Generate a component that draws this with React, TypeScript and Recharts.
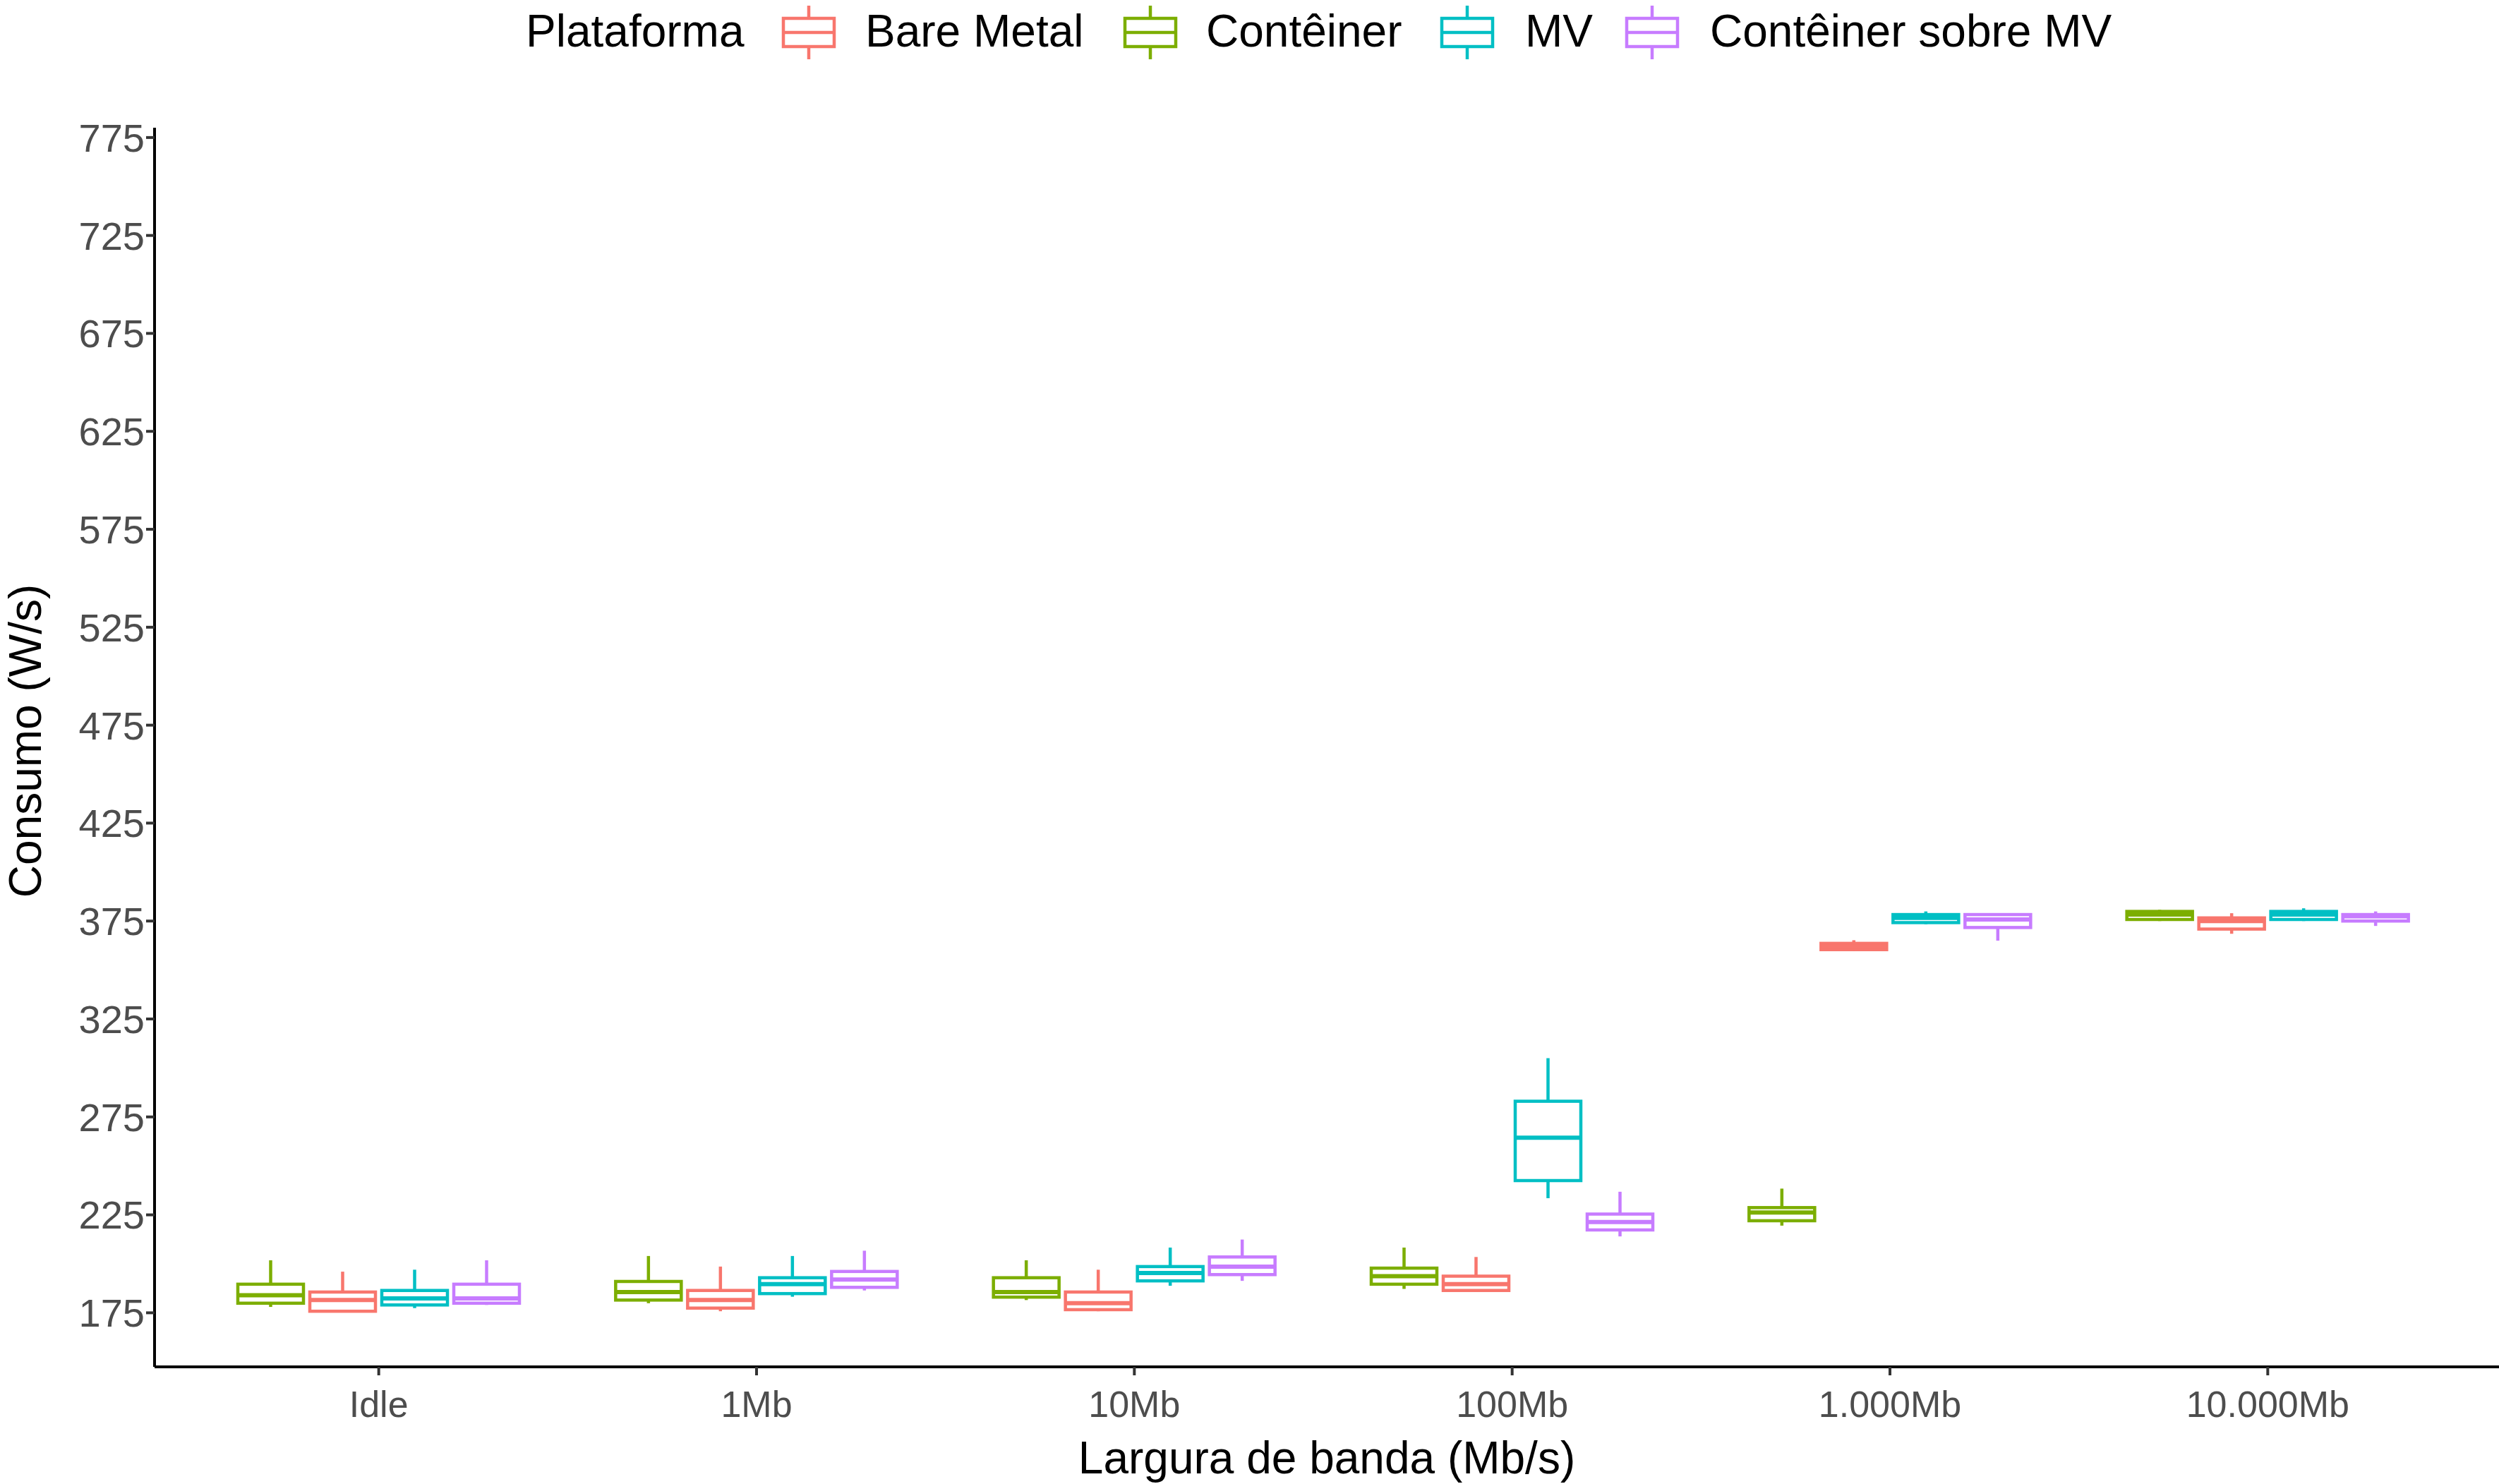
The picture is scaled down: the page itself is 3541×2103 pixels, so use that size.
import { ComposedChart, Bar, XAxis, YAxis } from 'recharts';

// [min, q1, median, q3, max] per category
const categories = ['Idle', '1Mb', '10Mb', '100Mb', '1.000Mb', '10.000Mb'];
const bareMetal = [
  [175.8, 175.8, 181.5, 185.6, 196],
  [175.8, 177.4, 181.5, 186.4, 198.6],
  [175.8, 176.6, 179.9, 185.6, 197],
  [185.6, 186.4, 189.6, 193.7, 203.5],
  [359.6, 360.4, 362, 363.6, 365.2],
  [368.5, 370.9, 375, 376.6, 379],
];
const conteiner = [
  [178, 179.9, 184, 189.6, 201.8],
  [179.9, 181.5, 185.6, 191, 204],
  [181.5, 183, 185.6, 192.9, 201.8],
  [187.2, 189.6, 193.7, 197.8, 208.3],
  [219.5, 222, 226.2, 228.7, 238.4],
  [375, 375.8, 378.3, 379.9, 380.7],
];
const mv = [
  [177.4, 179, 182.3, 186.4, 197],
  [183.2, 184.8, 189.6, 192.9, 204],
  [188.8, 191.3, 195.3, 198.6, 208.3],
  [233.5, 242.5, 264.4, 283, 305],
  [373.4, 374.2, 376.6, 378.3, 379.9],
  [375, 375.8, 378.3, 379.9, 381.5],
];
const conteinerMv = [
  [179, 179.9, 182.3, 189.6, 201.8],
  [186.4, 188, 192, 196.1, 206.7],
  [191.3, 194.5, 198.6, 203.5, 212.4],
  [214, 217.3, 221.3, 225.4, 236.8],
  [365, 371.7, 375.8, 378.3, 379],
  [372.5, 375, 377.4, 378.3, 379.9],
];
const yTicks = [175, 225, 275, 325, 375, 425, 475, 525, 575, 625, 675, 725, 775];

const series = [
  { key: 'ct', name: 'Contêiner', color: '#7CAE00', values: conteiner },
  { key: 'bm', name: 'Bare Metal', color: '#F8766D', values: bareMetal },
  { key: 'mv', name: 'MV', color: '#00BFC4', values: mv },
  { key: 'cm', name: 'Contêiner sobre MV', color: '#C77CFF', values: conteinerMv },
];
const legendOrder = [
  { name: 'Bare Metal', color: '#F8766D', left: 1106, text: 1226 },
  { name: 'Contêiner', color: '#7CAE00', left: 1590, text: 1709 },
  { name: 'MV', color: '#00BFC4', left: 2039, text: 2161 },
  { name: 'Contêiner sobre MV', color: '#C77CFF', left: 2301, text: 2423 },
];

const data = categories.map((cat, i) => {
  const row: any = { cat };
  series.forEach((s) => {
    row[s.key] = [s.values[i][0], s.values[i][4]];
    row[s.key + 'Stats'] = s.values[i];
  });
  return row;
});

const FONT = '"Liberation Sans", Arial, sans-serif';

function boxShape(key: string, color: string) {
  return (props: any) => {
    const { x, width, payload } = props;
    let { y, height } = props;
    if (height < 0) {
      y = y + height;
      height = -height;
    }
    const [lo, q1, med, q3, hi] = payload[key + 'Stats'];
    const k = height / (hi - lo);
    const py = (v: number) => y + (hi - v) * k;
    const cx = x + width / 2;
    return (
      <g stroke={color} strokeWidth={4.5} fill="none">
        <line x1={cx} x2={cx} y1={py(hi)} y2={py(q3)} />
        <line x1={cx} x2={cx} y1={py(q1)} y2={py(lo)} />
        <rect x={x} y={py(q3)} width={width} height={Math.max(py(q1) - py(q3), 0.5)} fill="#fff" />
        <line x1={x} x2={x + width} y1={py(med)} y2={py(med)} strokeWidth={6} />
      </g>
    );
  };
}

function LegendKey({ color }: { color: string }) {
  return (
    <svg width={80} height={80} style={{ position: 'absolute', top: 2 }}>
      <g stroke={color} strokeWidth={4.5} fill="#fff">
        <line x1={40} x2={40} y1={2} y2={78} />
        <rect x={4} y={20} width={72} height={40} />
        <line x1={4} x2={76} y1={40} y2={40} />
      </g>
    </svg>
  );
}

export default function App() {
  return (
    <div style={{ position: 'absolute', left: 0, top: 0, width: 3541, height: 2103, background: '#fff', fontFamily: FONT }}>
      <div style={{ position: 'absolute', left: 745, top: 4, fontSize: 64, lineHeight: '80px' }}>Plataforma</div>
      {legendOrder.map((l) => (
        <div key={l.name}>
          <div style={{ position: 'absolute', left: l.left, top: 4 }}>
            <LegendKey color={l.color} />
          </div>
          <div style={{ position: 'absolute', left: l.text, top: 4, fontSize: 64, lineHeight: '80px' }}>{l.name}</div>
        </div>
      ))}
      <div
        style={{
          position: 'absolute', left: 36, top: 1050, fontSize: 64,
          transform: 'translate(-50%, -50%) rotate(-90deg)', whiteSpace: 'nowrap',
        }}
      >
        Consumo (W/s)
      </div>
      <div style={{ position: 'absolute', left: 1880, top: 2066, fontSize: 64, transform: 'translate(-50%, -50%)', whiteSpace: 'nowrap' }}>
        Largura de banda (Mb/s)
      </div>
      <ComposedChart
        width={3541}
        height={2103}
        data={data}
        margin={{ top: 181, right: 0, bottom: 0, left: 0 }}
        barSize={93}
        barGap={9}
        barCategoryGap={68}
        style={{ position: 'absolute', left: 0, top: 0 }}
      >
        <XAxis
          dataKey="cat"
          height={166}
          padding={{ left: 50, right: 60 }}
          axisLine={{ stroke: '#000', strokeWidth: 4 }}
          tickLine={{ stroke: '#333', strokeWidth: 4 }}
          tickSize={12}
          tick={{ fill: '#4d4d4d', fontSize: 52, fontFamily: FONT, dy: 20 }}
        />
        <YAxis
          type="number"
          domain={[147.4, 780]}
          ticks={yTicks}
          width={219}
          axisLine={{ stroke: '#000', strokeWidth: 4 }}
          tickLine={{ stroke: '#333', strokeWidth: 4 }}
          tickSize={12}
          tick={{ fill: '#4d4d4d', fontSize: 56, fontFamily: FONT }}
        />
        {series.map((s) => (
          <Bar
            key={s.key}
            dataKey={s.key}
            name={s.name}
            fill={s.color}
            isAnimationActive={false}
            shape={boxShape(s.key, s.color)}
          />
        ))}
      </ComposedChart>
    </div>
  );
}
